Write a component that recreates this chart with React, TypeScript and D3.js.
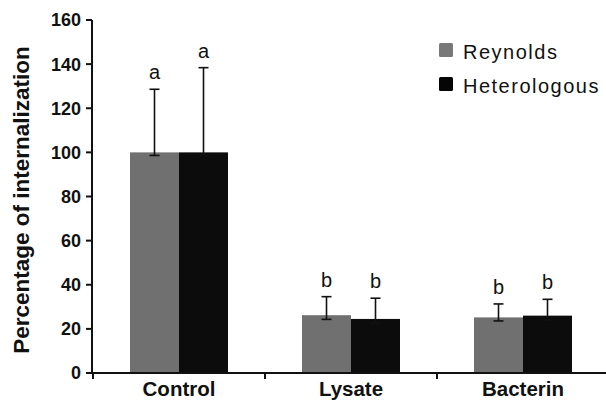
import React from "react";
import * as d3 from "d3";

const categories = ["Control", "Lysate", "Bacterin"];
const series = ["Reynolds", "Heterologous"];
const reynolds = [100, 26.2, 25.2];
const heterologous = [100, 24.5, 26.0];
const reynoldsErrHigh = [128.6, 34.6, 31.3];
const heterologousErrHigh = [138.4, 33.9, 33.4];
const reynoldsErrLow = [98.6, 24.3, 23.6];
const heterologousErrLow = [98.6, 22.5, 24.0];
const reynoldsLetters = ["a", "b", "b"];
const heterologousLetters = ["a", "b", "b"];
const yTicks = [0, 20, 40, 60, 80, 100, 120, 140, 160];
const colors = ["#707070", "#0c0c0c"];
const legendColors = ["#787878", "#050505"];

const W = 606;
const H = 401;
const FONT = "'Liberation Sans', Arial, Helvetica, sans-serif";

export default function App() {
  const y = d3.scaleLinear().domain([0, 160]).range([373, 20]);
  const x0 = d3.scaleBand<string>().domain(categories).range([93, 609]).padding(0);
  const x1 = d3
    .scaleBand<string>()
    .domain(series)
    .range([0, x0.bandwidth()])
    .paddingInner(0)
    .paddingOuter(0.755);

  const values = [reynolds, heterologous];
  const hi = [reynoldsErrHigh, heterologousErrHigh];
  const lo = [reynoldsErrLow, heterologousErrLow];
  const letters = [reynoldsLetters, heterologousLetters];

  const axisX = 92;
  const baseY = y(0);
  const boundaries = categories.map((c) => x0(c)!);

  return (
    <svg width={W} height={H} style={{ position: "absolute", left: 0, top: 0, background: "#fff" }}>
      <rect x={0} y={0} width={W} height={H} fill="#fff" />
      {categories.map((c, ci) =>
        series.map((s, si) => {
          const bx = x0(c)! + x1(s)!;
          const bw = x1.bandwidth();
          const cx = bx + bw / 2;
          const v = values[si][ci];
          const yh = y(hi[si][ci]);
          const yl = y(lo[si][ci]);
          return (
            <g key={c + s}>
              <rect x={bx} y={y(v)} width={bw} height={baseY - y(v)} fill={colors[si]} />
              <line x1={cx} x2={cx} y1={yh} y2={yl} stroke="#111" strokeWidth={1.6} />
              <line x1={cx - 5} x2={cx + 5} y1={yh} y2={yh} stroke="#111" strokeWidth={1.6} />
              <line x1={cx - 5} x2={cx + 5} y1={yl} y2={yl} stroke="#111" strokeWidth={1.6} />
              <text
                x={cx}
                y={yh - 10}
                textAnchor="middle"
                fontFamily={FONT}
                fontSize={20}
                fill="#111"
              >
                {letters[si][ci]}
              </text>
            </g>
          );
        })
      )}
      {/* Y axis */}
      <line x1={axisX} x2={axisX} y1={y(160)} y2={baseY} stroke="#111" strokeWidth={2} />
      {yTicks.map((t) => (
        <g key={t}>
          <line x1={axisX - 6} x2={axisX} y1={y(t)} y2={y(t)} stroke="#111" strokeWidth={2} />
          <text
            x={81}
            y={y(t)}
            dy="0.36em"
            textAnchor="end"
            fontFamily={FONT}
            fontWeight="bold"
            fontSize={18}
            fill="#111"
          >
            {t}
          </text>
        </g>
      ))}
      {/* X axis */}
      <line x1={axisX} x2={W} y1={baseY} y2={baseY} stroke="#111" strokeWidth={2} />
      {boundaries.map((b, i) => (
        <line key={i} x1={b} x2={b} y1={baseY} y2={baseY + 6} stroke="#111" strokeWidth={2} />
      ))}
      {categories.map((c) => (
        <text
          key={c}
          x={x0(c)! + x0.bandwidth() / 2}
          y={396}
          textAnchor="middle"
          fontFamily={FONT}
          fontWeight="bold"
          fontSize={20.5}
          fill="#111"
        >
          {c}
        </text>
      ))}
      {/* Y label */}
      <text
        transform={`translate(29,200) rotate(-90)`}
        textAnchor="middle"
        fontFamily={FONT}
        fontWeight="bold"
        fontSize={22.5}
        fill="#111"
      >
        Percentage of internalization
      </text>
      {/* Legend */}
      {series.map((s, i) => (
        <g key={s} transform={`translate(439,${43 + i * 34})`}>
          <rect x={0} y={0} width={14} height={14} rx={1.5} fill={legendColors[i]} />
          <text
            x={24}
            y={15.5}
            fontFamily={FONT}
            fontSize={20}
            letterSpacing={1.5}
            fill="#111"
          >
            {s}
          </text>
        </g>
      ))}
    </svg>
  );
}
